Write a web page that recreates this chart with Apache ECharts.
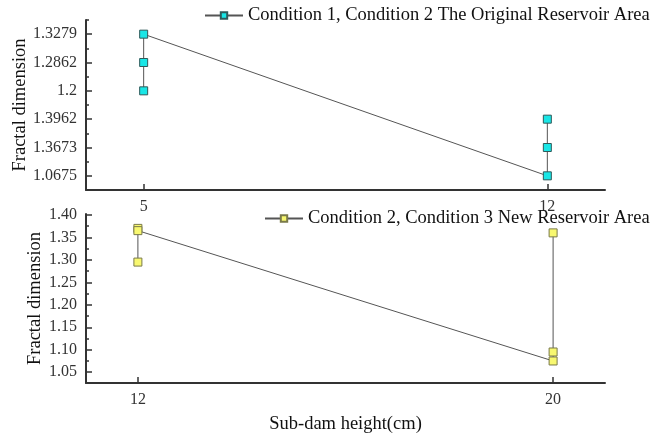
<!DOCTYPE html>
<html>
<head>
<meta charset="utf-8">
<script src="https://cdn.jsdelivr.net/npm/echarts@6/dist/echarts.min.js"></script>
<style>
  html, body { margin: 0; padding: 0; background: #fff; }
  #main { width: 652px; height: 437px; }
</style>
</head>
<body>
<div id="main"></div>
<script>
// upper panel: original reservoir area
var topName = 'Condition 1, Condition 2 The Original Reservoir Area';
var topX = [5, 5, 5, 12, 12, 12];
var topY = ['1.2', '1.2862', '1.3279', '1.0675', '1.3673', '1.3962'];
// y tick labels, bottom to top, as printed on the axis
var topYTicks = ['1.0675', '1.3673', '1.3962', '1.2', '1.2862', '1.3279'];
var topXTicks = [5, 12];

// lower panel: new reservoir area
var botName = 'Condition 2, Condition 3 New Reservoir Area';
var botX = [12, 12, 12, 20, 20, 20];
var botY = [1.295, 1.37, 1.365, 1.075, 1.095, 1.36];
var botYTicks = [1.05, 1.10, 1.15, 1.20, 1.25, 1.30, 1.35, 1.40];
var botYMinor = [1.075, 1.125, 1.175, 1.225, 1.275, 1.325, 1.375];
var botXTicks = [12, 20];

var serif = 'Liberation Serif';
var axisCol = '#333';

function pairs(xs, ys) {
  return xs.map(function (x, i) { return [x, ys[i]]; });
}

var chart = echarts.init(document.getElementById('main'));

var tickStyle = { color: axisCol, width: 1.5 };
var lineStyle = { color: axisCol, width: 2 };
var labelFont = { color: '#333', fontFamily: serif, fontSize: 16, margin: 9 };
var nameFont = { fontFamily: serif, fontSize: 18.5, color: '#111' };

chart.setOption({
  animation: false,
  grid: [
    { left: 86, right: 47, top: 20, height: 170, outerBoundsMode: 'none' },
    { left: 86, right: 47, top: 214, height: 169, outerBoundsMode: 'none' }
  ],
  legend: [
    {
      data: [topName], left: 204, top: 6, padding: 0,
      itemWidth: 38, itemHeight: 8,
      textStyle: nameFont
    },
    {
      data: [botName], left: 264, top: 209, padding: 0,
      itemWidth: 38, itemHeight: 8,
      textStyle: nameFont
    }
  ],
  xAxis: [
    {
      type: 'value', gridIndex: 0, min: 4, max: 13, position: 'bottom',
      axisLine: { show: true, onZero: false, lineStyle: lineStyle },
      axisTick: { show: true, inside: true, length: 6, customValues: topXTicks, lineStyle: tickStyle },
      axisLabel: Object.assign({ customValues: topXTicks }, labelFont),
      splitLine: { show: false }
    },
    {
      type: 'value', gridIndex: 1, min: 11, max: 21, position: 'bottom',
      name: 'Sub-dam height(cm)', nameLocation: 'middle', nameGap: 32,
      nameTextStyle: nameFont,
      axisLine: { show: true, onZero: false, lineStyle: lineStyle },
      axisTick: { show: true, inside: true, length: 6, customValues: botXTicks, lineStyle: tickStyle },
      axisLabel: Object.assign({ customValues: botXTicks }, labelFont),
      splitLine: { show: false }
    }
  ],
  yAxis: [
    {
      gridIndex: 0, type: 'category', data: topYTicks, boundaryGap: true, position: 'left',
      name: 'Fractal dimension', nameLocation: 'middle', nameGap: 56, nameMoveOverlap: false,
      nameTextStyle: nameFont,
      axisLine: { show: true, onZero: false, lineStyle: lineStyle },
      axisTick: { show: true, inside: true, alignWithLabel: true, length: 6, lineStyle: tickStyle },
      axisLabel: labelFont,
      splitLine: { show: false }
    },
    {
      // minor ticks on band edges
      gridIndex: 0, type: 'category', data: topYTicks, boundaryGap: true, position: 'left', offset: 0,
      axisLine: { show: false, onZero: false },
      axisTick: { show: true, inside: true, length: 3, lineStyle: tickStyle },
      axisLabel: { show: false },
      splitLine: { show: false }
    },
    {
      gridIndex: 1, type: 'value', min: 1.026, max: 1.402, position: 'left',
      name: 'Fractal dimension', nameLocation: 'middle', nameGap: 41, nameMoveOverlap: false,
      nameTextStyle: nameFont,
      axisLine: { show: true, onZero: false, lineStyle: lineStyle },
      axisTick: { show: true, inside: true, length: 6, customValues: botYTicks, lineStyle: tickStyle },
      axisLabel: Object.assign({
        customValues: botYTicks,
        formatter: function (v) { return v.toFixed(2); }
      }, labelFont),
      splitLine: { show: false }
    },
    {
      gridIndex: 1, type: 'value', min: 1.026, max: 1.402, position: 'left', offset: 0,
      axisLine: { show: false, onZero: false },
      axisTick: { show: true, inside: true, length: 3, customValues: botYMinor, lineStyle: tickStyle },
      axisLabel: { show: false },
      splitLine: { show: false }
    }
  ],
  series: [
    {
      name: topName, type: 'line', xAxisIndex: 0, yAxisIndex: 0,
      data: pairs(topX, topY),
      symbol: 'rect', symbolSize: 8,
      lineStyle: { color: '#555', width: 1 },
      itemStyle: { color: '#19E6E6', borderColor: '#2F5A5A', borderWidth: 1 }
    },
    {
      name: botName, type: 'line', xAxisIndex: 1, yAxisIndex: 2,
      data: pairs(botX, botY),
      symbol: 'rect', symbolSize: 8,
      lineStyle: { color: '#555', width: 1 },
      itemStyle: { color: '#F8F870', borderColor: '#7A7A4A', borderWidth: 1 }
    }
  ]
});
</script>
</body>
</html>
